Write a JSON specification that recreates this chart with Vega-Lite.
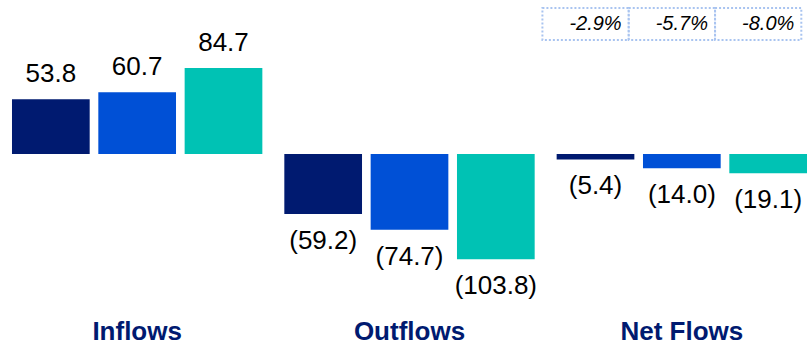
{
  "$schema": "https://vega.github.io/schema/vega-lite/v6.json",
  "width": 808,
  "height": 346,
  "padding": 0,
  "autosize": {"type": "none"},
  "background": "white",
  "config": {"view": {"stroke": null}, "text": {"font": "Liberation Sans"}},
  "datasets": {
    "bars": [
      {"category": "Inflows", "series": "s1", "value": 53.8, "label": "53.8"},
      {"category": "Inflows", "series": "s2", "value": 60.7, "label": "60.7"},
      {"category": "Inflows", "series": "s3", "value": 84.7, "label": "84.7"},
      {"category": "Outflows", "series": "s1", "value": -59.2, "label": "(59.2)"},
      {"category": "Outflows", "series": "s2", "value": -74.7, "label": "(74.7)"},
      {"category": "Outflows", "series": "s3", "value": -103.8, "label": "(103.8)"},
      {"category": "Net Flows", "series": "s1", "value": -5.4, "label": "(5.4)"},
      {"category": "Net Flows", "series": "s2", "value": -14.0, "label": "(14.0)"},
      {"category": "Net Flows", "series": "s3", "value": -19.1, "label": "(19.1)"}
    ],
    "pct": [
      {"category": "Net Flows", "series": "s1", "pct": "-2.9%"},
      {"category": "Net Flows", "series": "s2", "pct": "-5.7%"},
      {"category": "Net Flows", "series": "s3", "pct": "-8.0%"}
    ],
    "cats": [
      {"category": "Inflows"},
      {"category": "Outflows"},
      {"category": "Net Flows"}
    ]
  },
  "layer": [
    {
      "data": {"name": "bars"},
      "mark": {"type": "bar"},
      "encoding": {
        "x": {"field": "category", "type": "nominal", "sort": ["Inflows", "Outflows", "Net Flows"], "scale": {"range": [1, 818], "paddingInner": 0.049, "paddingOuter": 0.0245}, "axis": null},
        "xOffset": {"field": "series", "type": "nominal", "scale": {"paddingInner": 0.1, "paddingOuter": 0.05}},
        "y": {"field": "value", "type": "quantitative", "scale": {"domain": [-189.2, 151.7], "nice": false, "zero": false}, "axis": null},
        "y2": {"datum": 0},
        "color": {"field": "series", "type": "nominal", "scale": {"domain": ["s1", "s2", "s3"], "range": ["#001A70", "#0050D6", "#00C2B4"]}, "legend": null}
      }
    },
    {
      "data": {"name": "bars"},
      "transform": [{"filter": "datum.value > 0"}],
      "mark": {"type": "text", "baseline": "alphabetic", "dy": -17, "fontSize": 26, "color": "#000000"},
      "encoding": {
        "x": {"field": "category", "type": "nominal", "sort": ["Inflows", "Outflows", "Net Flows"]},
        "xOffset": {"field": "series", "type": "nominal"},
        "y": {"field": "value", "type": "quantitative", "scale": {"domain": [-189.2, 151.7], "nice": false, "zero": false}},
        "text": {"field": "label"}
      }
    },
    {
      "data": {"name": "bars"},
      "transform": [{"filter": "datum.value < 0"}],
      "mark": {"type": "text", "baseline": "top", "dy": 14, "fontSize": 26, "color": "#000000"},
      "encoding": {
        "x": {"field": "category", "type": "nominal", "sort": ["Inflows", "Outflows", "Net Flows"]},
        "xOffset": {"field": "series", "type": "nominal"},
        "y": {"field": "value", "type": "quantitative", "scale": {"domain": [-189.2, 151.7], "nice": false, "zero": false}},
        "text": {"field": "label"}
      }
    },
    {
      "data": {"name": "cats"},
      "mark": {"type": "text", "baseline": "alphabetic", "fontSize": 26, "fontWeight": "bold", "color": "#001A70"},
      "encoding": {
        "x": {"field": "category", "type": "nominal", "sort": ["Inflows", "Outflows", "Net Flows"]},
        "y": {"datum": -183.3, "scale": {"domain": [-189.2, 151.7], "nice": false, "zero": false}},
        "text": {"field": "category"}
      }
    },
    {
      "data": {"name": "pct"},
      "mark": {"type": "bar", "fill": "transparent", "stroke": "#A9C4F0", "strokeWidth": 2, "strokeDash": [2, 2], "width": {"band": 1.11}},
      "encoding": {
        "x": {"field": "category", "type": "nominal", "sort": ["Inflows", "Outflows", "Net Flows"]},
        "xOffset": {"field": "series", "type": "nominal"},
        "y": {"datum": 143.8, "scale": {"domain": [-189.2, 151.7], "nice": false, "zero": false}},
        "y2": {"datum": 112.3}
      }
    },
    {
      "data": {"name": "pct"},
      "mark": {"type": "text", "baseline": "middle", "fontSize": 20, "fontStyle": "italic", "color": "#000000"},
      "encoding": {
        "x": {"field": "category", "type": "nominal", "sort": ["Inflows", "Outflows", "Net Flows"]},
        "xOffset": {"field": "series", "type": "nominal"},
        "y": {"datum": 128, "scale": {"domain": [-189.2, 151.7], "nice": false, "zero": false}},
        "text": {"field": "pct"}
      }
    }
  ]
}
